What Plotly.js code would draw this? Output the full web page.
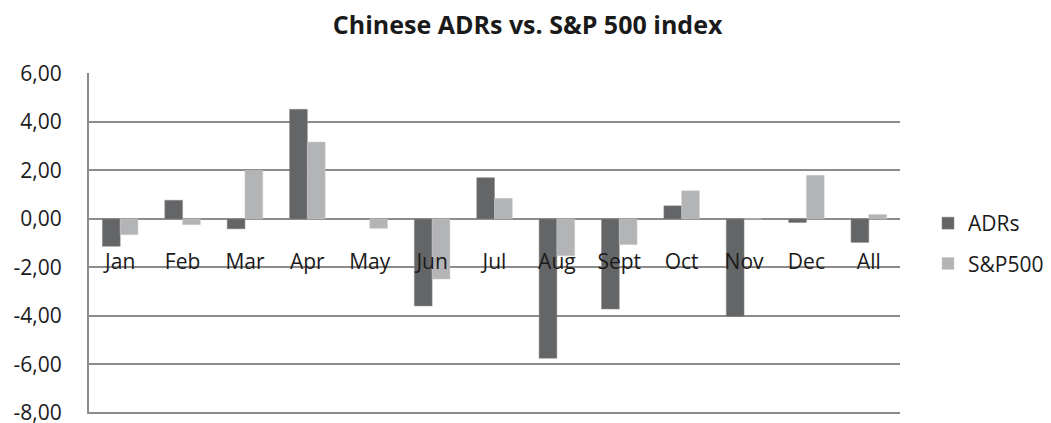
<!DOCTYPE html>
<html>
<head>
<meta charset="utf-8">
<script src="https://cdn.plot.ly/plotly-3.0.1.min.js"></script>
<style>html,body{margin:0;padding:0;background:#fff;}#chart{width:1051px;height:423px;}</style>
</head>
<body>
<div id="chart"></div>
<script>
const categories = ["Jan","Feb","Mar","Apr","May","Jun","Jul","Aug","Sept","Oct","Nov","Dec","All"];
const adrs   = [-1.13, 0.77, -0.41, 4.52, 0.00, -3.59, 1.70, -5.75, -3.72, 0.54, -4.03, -0.15, -0.97];
const sp500  = [-0.65, -0.24, 2.00, 3.17, -0.39, -2.48, 0.85, -1.52, -1.06, 1.16, 0.00, 1.80, 0.18];
const seriesNames = ["ADRs", "S&P500"];
const yTicks = [-8, -6, -4, -2, 0, 2, 4, 6];
const yTickText = yTicks.map(v => v.toFixed(2).replace(".", ","));
const yRange = [-8.05, 6.02];

const font = "'Open Sans', sans-serif";
const traces = [
  {type:"bar", name:seriesNames[0], x:categories, y:adrs, legendgroup:"a",
   marker:{color:"#646567", line:{color:"#8a8b8d", width:0.5}}},
  {type:"bar", name:seriesNames[1], x:categories, y:sp500, legendgroup:"b",
   marker:{color:"#b3b4b6", line:{color:"#c8c9cb", width:0.5}}}
];
const layout = {
  width:1051, height:423,
  margin:{l:89, r:151, t:73, b:9, autoexpand:false},
  paper_bgcolor:"#fff", plot_bgcolor:"#fff",
  barmode:"group", bargap:0.43, bargroupgap:0,
  title:{text:"<b>Chinese ADRs vs. S&P 500 index</b>", x:0.502, xanchor:"center", y:0.94, yanchor:"middle",
         font:{family:font, size:25, color:"#1a1a1a"}},
  font:{family:font, color:"#1a1a1a"},
  xaxis:{type:"category", anchor:"free", position:(0 - yRange[0])/(yRange[1]-yRange[0]), showline:false, showgrid:false, zeroline:false,
         ticks:"", ticklabelstandoff:28, tickfont:{size:21, color:"#1a1a1a"}, fixedrange:true},
  yaxis:{range:yRange, tickvals:yTicks, ticktext:yTickText, showgrid:true, gridcolor:"#8c8c8c", gridwidth:2,
         zeroline:true, zerolinecolor:"#8c8c8c", zerolinewidth:2, ticklabeloverflow:"allow",
         showline:true, linecolor:"#8c8c8c", linewidth:2, ticks:"", ticklabelstandoff:21,
         tickfont:{size:21, color:"#1a1a1a"}},
  showlegend:true,
  legend:{x:1.0345, xanchor:"left", y:0.5, yanchor:"middle", tracegroupgap:10,
          font:{size:21, color:"#1a1a1a"}, itemwidth:30}
};
Plotly.newPlot("chart", traces, layout, {displayModeBar:false, staticPlot:true});
</script>
</body>
</html>
